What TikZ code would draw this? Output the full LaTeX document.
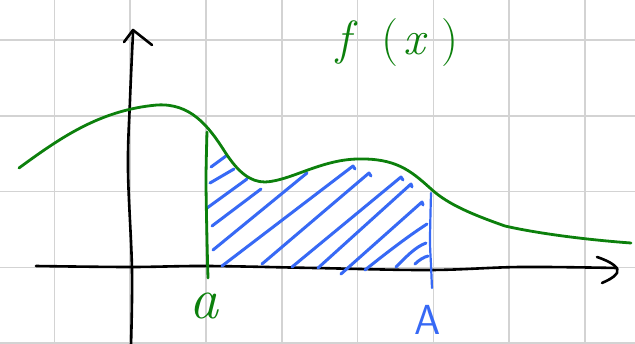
\documentclass[tikz,border=0pt]{standalone}
\definecolor{gridgray}{RGB}{211,211,211}
\definecolor{curvegreen}{RGB}{12,128,12}
\definecolor{hatchblue}{RGB}{55,105,245}
\begin{document}
\begin{tikzpicture}[x=1pt,y=-1pt, line cap=round, line join=round,
  gridline/.style={gridgray, line width=1.6pt},
  axisline/.style={black, line width=2.6pt},
  fcurve/.style={curvegreen, line width=2.8pt},
  hatch/.style={hatchblue, line width=3pt},
  lbl/.style={inner sep=0pt, anchor=base}]
\useasboundingbox (0,0) rectangle (635,343);
\fill[white] (0,0) rectangle (635,343);
\begin{scope}
\clip (0,0) rectangle (635,343);
% grid
\foreach \gx in {54.3,130.1,205.9,281.7,357.5,433.3,509.1,584.9}
  \draw[gridline] (\gx,-5) -- (\gx,350);
\foreach \gy in {40,115.8,191.6,267.4,343.2}
  \draw[gridline] (-5,\gy) -- (640,\gy);
% axes
\draw[axisline] plot[smooth, tension=0.6] coordinates {(36,266) (130,267) (207,266) (315,268) (430,270) (520,267) (617,268)};
\draw[axisline] (597,257) .. controls (612,262) and (620,268) .. (617,273) .. controls (614,278) and (606,281) .. (602,283);
\draw[axisline] plot[smooth, tension=0.6] coordinates {(131,345) (132,270) (128,170) (130,100) (133,33)};
\draw[axisline] (124,42) -- (133,30) -- (152,45);
% hatching
\draw[hatch] (211,167) -- (226,156);
\draw[hatch] (210,183) -- (234,169);
\draw[hatch] (207,208) -- (247,179);
\draw[hatch] (212,226) -- (261,189);
\draw[hatch] (213,250) -- (307,173);
\draw[hatch] (222,266) -- (353,166) -- ++(2,3);
\draw[hatch] (262,264) -- (369,173) -- ++(2,3);
\draw[hatch] (292,267) -- (401,177) -- ++(2,3);
\draw[hatch] (318,268) -- (411,184) -- ++(1,3);
\draw[hatch] (341,274) -- (422,202) -- ++(1,3);
\draw[hatch] (365,270) .. controls (390,250) and (410,235) .. (427,224);
\draw[hatch] (396,267) .. controls (405,258) and (415,247) .. (426,243);
\draw[hatch] (415,264) .. controls (419,260) and (424,257) .. (428,256);
% green curve
\draw[fcurve] (19,168) .. controls (60,138) and (100,110) .. (157,105)
  .. controls (190,103) and (208,125) .. (225,152)
  .. controls (238,172) and (250,182) .. (265,182)
  .. controls (290,181) and (320,160) .. (357,159)
  .. controls (395,158) and (410,170) .. (430,188)
  .. controls (445,202) and (465,212) .. (505,226)
  .. controls (540,234) and (590,240) .. (631,243);
\draw[fcurve] plot[smooth, tension=0.5] coordinates {(207,132) (206,180) (207,240) (208,278)};
% blue A line
\draw[hatchblue, line width=2.2pt] plot[smooth, tension=0.5] coordinates {(431,193) (430,240) (431,265) (432,288)};
\end{scope}
% labels
\node[lbl, curvegreen, anchor=base west] (fx) at (336,54) {\fontsize{48}{48}\selectfont\textit{f}\hspace{24pt}(\hspace{5pt}\textit{x}\hspace{14pt})};
\node[lbl, curvegreen] (la) at (204,318) {\fontsize{58}{58}\selectfont\itshape a};
\node[lbl, hatchblue] (lA) at (428,334) {\fontsize{42}{42}\selectfont\sffamily A};
\end{tikzpicture}
\end{document}
